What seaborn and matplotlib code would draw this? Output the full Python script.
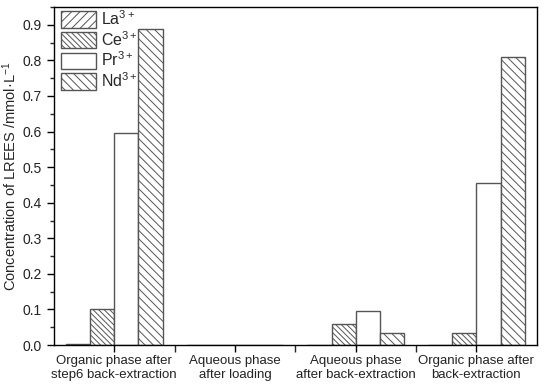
import pandas as pd
import numpy as np
import matplotlib
matplotlib.use("Agg")
import matplotlib.pyplot as plt
from matplotlib.ticker import MultipleLocator, FixedLocator
import seaborn as sns

# values (mmol/L)
phases = ["Organic phase after\nstep6 back-extraction",
          "Aqueous phase\nafter loading",
          "Aqueous phase\nafter back-extraction",
          "Organic phase after\nback-extraction"]
ions = ["La$^{3+}$", "Ce$^{3+}$", "Pr$^{3+}$", "Nd$^{3+}$"]
la = [0.004, 0.0, 0.0, 0.0]
ce = [0.101, 0.0, 0.059, 0.033]
pr = [0.595, 0.0, 0.095, 0.455]
nd = [0.888, 0.0, 0.033, 0.809]
hatches = ["////", "\\\\\\\\\\\\", "", "\\\\\\\\"]

rows = []
for ion, vals in zip(ions, [la, ce, pr, nd]):
    for ph, v in zip(phases, vals):
        rows.append({"Phase": ph, "Ion": ion, "Conc": v})
df = pd.DataFrame(rows)

sns.set_style("ticks")
plt.rcParams["font.family"] = ["Liberation Sans", "DejaVu Sans"]
plt.rcParams["mathtext.fontset"] = "custom"
plt.rcParams["mathtext.rm"] = "Liberation Sans"
plt.rcParams["mathtext.it"] = "Liberation Sans:italic"
plt.rcParams["mathtext.default"] = "regular"
plt.rcParams["hatch.color"] = "#444444"
plt.rcParams["hatch.linewidth"] = 0.7

fig = plt.figure(figsize=(5.5, 3.86), dpi=100)
ax = fig.add_axes([0.098, 0.106, 0.878, 0.876])

sns.barplot(data=df, x="Phase", y="Conc", hue="Ion", order=phases, hue_order=ions,
            width=0.8, palette=["white"] * 4, edgecolor="#555555",
            linewidth=1.0, ax=ax, legend=True)

for cont, h in zip(ax.containers, hatches):
    for bar in cont:
        bar.set_hatch(h)
        bar.set_facecolor("white")
        bar.set_edgecolor("#555555")

handles, labels = ax.get_legend_handles_labels()
for hd, h in zip(handles, hatches):
    hd.set_hatch(h)
    hd.set_facecolor("white")
    hd.set_edgecolor("#555555")
ax.legend(handles, ions, loc="upper left", frameon=False, fontsize=11.5,
          handlelength=2.2, handleheight=1.2, labelspacing=0.12,
          handletextpad=0.3, borderaxespad=0.0, borderpad=0.15,
          bbox_to_anchor=(0.01, 1.0))

ax.set_xlim(-0.5, 3.5)
ax.set_ylim(0, 0.95)
ax.yaxis.set_major_locator(MultipleLocator(0.1))
ax.yaxis.set_minor_locator(MultipleLocator(0.05))
ax.xaxis.set_minor_locator(FixedLocator([0.5, 1.5, 2.5]))
ax.set_xlabel("")
ax.set_ylabel("Concentration of LREES /mmol·L$^{-1}$", fontsize=10.5, labelpad=3)
ax.tick_params(axis="both", which="major", length=5, width=1.0, direction="out",
               colors="black", labelcolor="#222222")
ax.tick_params(axis="x", which="minor", length=5, width=1.0, direction="out")
ax.tick_params(axis="y", which="minor", length=3, width=1.0, direction="out")
ax.tick_params(axis="x", labelsize=9.5, pad=2)
ax.tick_params(axis="y", labelsize=10)
for lbl in ax.get_xticklabels():
    lbl.set_linespacing(1.25)
for s in ax.spines.values():
    s.set_visible(True)
    s.set_linewidth(1.0)
    s.set_color("black")

fig.savefig("out.png", dpi=100)
